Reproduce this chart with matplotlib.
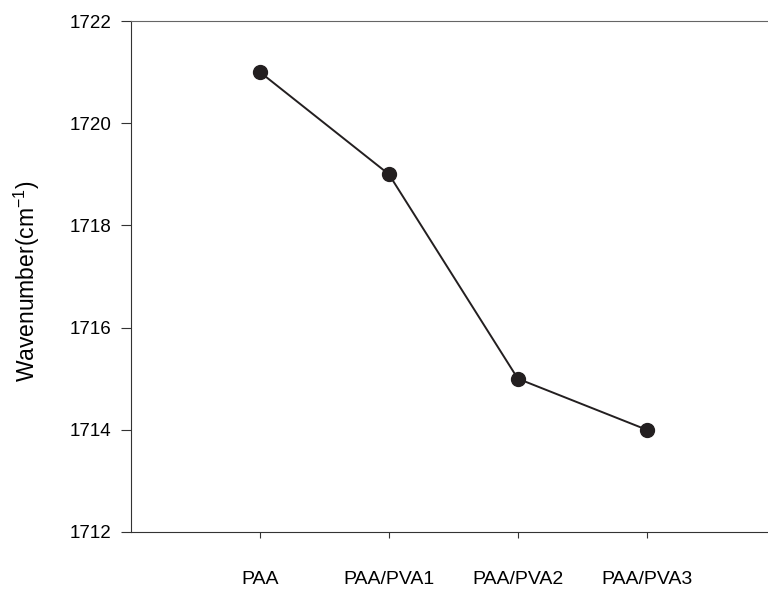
import matplotlib.pyplot as plt

plt.rcParams['font.family'] = ['Liberation Sans', 'DejaVu Sans']
plt.rcParams['mathtext.fontset'] = 'custom'
plt.rcParams['mathtext.rm'] = 'Liberation Sans'

samples = ["PAA", "PAA/PVA1", "PAA/PVA2", "PAA/PVA3"]
wavenumber = [1721, 1719, 1715, 1714]
yticks = [1712, 1714, 1716, 1718, 1720, 1722]

fig = plt.figure(figsize=(7.68, 5.92), dpi=100)
ax = fig.add_axes([0.1706, 0.1014, 0.8294, 0.8631])

x = list(range(1, len(samples) + 1))
ax.plot(x, wavenumber, color="#231f20", linewidth=1.4, marker="o",
        markersize=10, markerfacecolor="#231f20", markeredgecolor="#231f20")

ax.set_xlim(0, 4.94)
ax.set_ylim(1712, 1722)
ax.set_xticks(x)
ax.set_xticklabels(samples, fontsize=14)
ax.set_yticks(yticks)
ax.set_yticklabels([str(v) for v in yticks], fontsize=13.5)
ax.tick_params(axis="x", direction="out", length=4, pad=24, colors="#333333",
               labelcolor="black")
ax.tick_params(axis="y", direction="out", length=7, pad=7, colors="#333333",
               labelcolor="black")
ax.set_ylabel("Wavenumber(cm$^{-1}$)", fontsize=16.5)
ax.yaxis.set_label_coords(-0.14, 0.49)

ax.spines["right"].set_visible(False)
ax.spines["top"].set_color("#666666")
ax.spines["left"].set_color("#333333")
ax.spines["bottom"].set_color("#333333")

fig.savefig("out.png", dpi=100)
